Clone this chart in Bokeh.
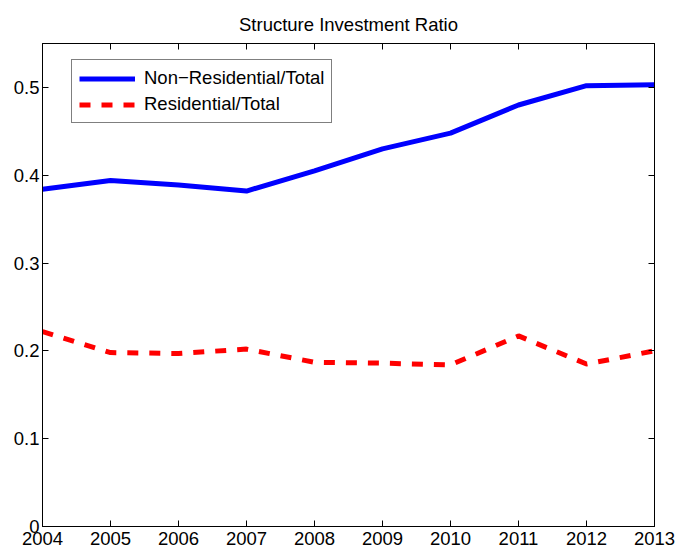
from bokeh.plotting import figure
from bokeh.models import FixedTicker, LinearAxis, Range1d, Legend, LegendItem
from bokeh.embed import file_html
from bokeh.resources import INLINE

years = [2004, 2005, 2006, 2007, 2008, 2009, 2010, 2011, 2012, 2013]
non_residential = [0.384, 0.394, 0.389, 0.382, 0.405, 0.430, 0.448, 0.480, 0.502, 0.503]
residential = [0.222, 0.198, 0.197, 0.202, 0.187, 0.186, 0.184, 0.217, 0.185, 0.200]
y_ticks = [0, 0.1, 0.2, 0.3, 0.4, 0.5]
y_tick_labels = ["0", "0.1", "0.2", "0.3", "0.4", "0.5"]
x_tick_labels = [str(y) for y in years]

FONT = "Liberation Sans"
FS = "18.5px"

p = figure(width=677, height=552, output_backend="svg", toolbar_location=None,
           x_range=Range1d(2004, 2013), y_range=Range1d(0, 0.55),
           min_border_left=42, min_border_right=23, min_border_top=43, min_border_bottom=26,
           title="Structure Investment Ratio")
p.title.align = "center"
p.title.text_font = FONT
p.title.text_font_size = FS
p.title.text_font_style = "normal"
p.title.text_color = "black"
p.title.standoff = 17
p.title.offset = 0

p.xgrid.visible = False
p.ygrid.visible = False
p.outline_line_color = "black"
p.background_fill_color = "white"
p.border_fill_color = "white"


def style_axis(ax, ticks, labels=None):
    ax.ticker = FixedTicker(ticks=ticks)
    ax.major_tick_in = 6
    ax.major_tick_out = 0
    ax.minor_tick_line_color = None
    ax.axis_line_color = "black"
    ax.major_tick_line_color = "black"
    ax.major_label_text_font = FONT
    ax.major_label_text_font_size = FS
    ax.major_label_text_color = "black"
    if labels is not None:
        ax.major_label_overrides = {t: l for t, l in zip(ticks, labels)}


style_axis(p.xaxis[0], years, x_tick_labels)
p.xaxis[0].major_label_standoff = 5
style_axis(p.yaxis[0], y_ticks, y_tick_labels)
p.yaxis[0].major_label_standoff = 3

top_axis = LinearAxis()
style_axis(top_axis, years, ["" for _ in years])
top_axis.major_label_standoff = 0
top_axis.major_label_text_font_size = "0px"
p.add_layout(top_axis, "above")

right_axis = LinearAxis()
style_axis(right_axis, y_ticks, ["" for _ in y_ticks])
right_axis.major_label_standoff = 0
right_axis.major_label_text_font_size = "0px"
p.add_layout(right_axis, "right")

r1 = p.line(years, non_residential, line_color="#0000ff", line_width=5)
r2 = p.line(years, residential, line_color="#ff0000", line_width=5, line_dash="11 11")

legend = Legend(items=[LegendItem(label="Non\u2212Residential/Total", renderers=[r1]),
                       LegendItem(label="Residential/Total", renderers=[r2])],
                location=(29, 403))
legend.label_text_font = FONT
legend.label_text_font_size = FS
legend.label_text_color = "black"
legend.glyph_width = 56
legend.glyph_height = 21
legend.label_height = 21
legend.label_standoff = 9
legend.padding = 7
legend.spacing = 4
legend.margin = 0
legend.border_line_color = "black"
legend.border_line_width = 1
legend.background_fill_color = "white"
legend.background_fill_alpha = 1
p.add_layout(legend, "center")

open("out.html", "w").write(file_html(p, INLINE))
